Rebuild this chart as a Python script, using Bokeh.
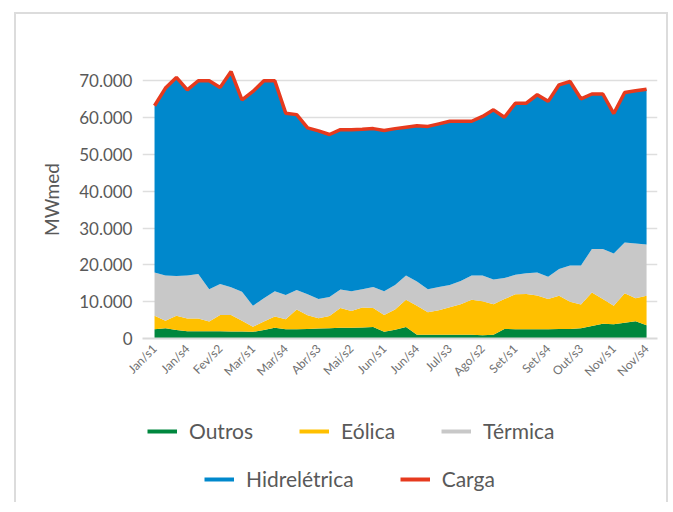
import math
from bokeh.plotting import figure
from bokeh.layouts import column
from bokeh.models import ColumnDataSource, FixedTicker, Legend, LegendItem
from bokeh.embed import file_html
from bokeh.resources import INLINE

weeks = ["Jan/s1", "Jan/s2", "Jan/s3", "Jan/s4", "Jan/s5",
         "Fev/s1", "Fev/s2", "Fev/s3", "Fev/s4",
         "Mar/s1", "Mar/s2", "Mar/s3", "Mar/s4",
         "Abr/s1", "Abr/s2", "Abr/s3", "Abr/s4",
         "Mai/s1", "Mai/s2", "Mai/s3", "Mai/s4",
         "Jun/s1", "Jun/s2", "Jun/s3", "Jun/s4",
         "Jul/s1", "Jul/s2", "Jul/s3", "Jul/s4",
         "Ago/s1", "Ago/s2", "Ago/s3", "Ago/s4",
         "Set/s1", "Set/s2", "Set/s3", "Set/s4",
         "Out/s1", "Out/s2", "Out/s3", "Out/s4", "Out/s5",
         "Nov/s1", "Nov/s2", "Nov/s3", "Nov/s4"]

outros = [2500, 2800, 2300, 2000, 2000, 2000, 2000, 1900, 1900, 1800, 2300, 2900, 2500, 2500, 2600, 2700,
          2800, 2900, 2900, 3000, 3100, 1800, 2400, 3100, 1000, 1000, 1000, 1000, 1000, 1000, 900,
          1000, 2600, 2500, 2500, 2500, 2500, 2600, 2600, 2800, 3400, 4000, 3900, 4300, 4700, 3600]
eolica = [3700, 2000, 3900, 3400, 3400, 2600, 4400, 4500, 2900, 1400, 2300, 3100, 2700, 5400, 3700, 2800,
          3300, 5400, 4600, 5400, 5200, 4600, 5500, 7400, 7900, 6100, 6700, 7500, 8300, 9500, 9200,
          8300, 8100, 9500, 9600, 9200, 8200, 9000, 7400, 6400, 9100, 6700, 5000, 8000, 6200, 8000]
termica = [11700, 12300, 10800, 11700, 12100, 8800, 8400, 7500, 7900, 5700, 6300, 6800, 6600, 5300, 5700, 5200,
           5200, 5000, 5300, 5000, 5700, 6400, 6600, 6600, 6600, 6300, 6300, 6000, 6300, 6600, 7000,
           6700, 5700, 5300, 5600, 6200, 6100, 7300, 9800, 10600, 11800, 13600, 14200, 13800, 14900, 13900]
hidreletrica = [45300, 50900, 53900, 50400, 52500, 56600, 53400, 58600, 52100, 58200, 59100, 57200, 49400, 47600, 45200, 45700,
                44100, 43400, 43900, 43400, 43000, 43700, 42500, 40300, 42300, 44200, 44300, 44500, 43400, 41900, 43200,
                46100, 43700, 46600, 46200, 48300, 47600, 50000, 50000, 45300, 42100, 42100, 38000, 40700, 41500, 42200]
carga = [63200, 68000, 70900, 67500, 70000, 70000, 68200, 72500, 64800, 67100, 70000, 70000, 61200, 60800, 57200, 56400,
         55400, 56700, 56700, 56800, 57000, 56500, 57000, 57400, 57800, 57600, 58300, 59000, 59000, 59000, 60300,
         62100, 60100, 63900, 63900, 66200, 64400, 68900, 69800, 65100, 66400, 66400, 61100, 66800, 67300, 67700]

series_names = ["Outros", "Eólica", "Térmica", "Hidrelétrica", "Carga"]
series_keys = ["outros", "eolica", "termica", "hidreletrica", "carga"]
colors = ["#00873E", "#FFC000", "#C8C8C8", "#0088CC", "#E63A1E"]

y_ticks = [0, 10000, 20000, 30000, 40000, 50000, 60000, 70000]
y_tick_labels = ["0", "10.000", "20.000", "30.000", "40.000", "50.000", "60.000", "70.000"]

x = list(range(len(weeks)))
source = ColumnDataSource(dict(x=x, outros=outros, eolica=eolica, termica=termica,
                               hidreletrica=hidreletrica, carga=carga))

FONT = "Lato"
TXT = "#595959"
BC = "#dcdcdc"
SHIFT = "translate(7px, 4px)"
W = 661

p = figure(width=W, height=384, output_backend="svg", toolbar_location=None,
           x_range=(-1.1, 46.0), y_range=(0, 75500),
           min_border_left=135, min_border_right=11, min_border_top=56, min_border_bottom=50)
p.styles = {"box-shadow": (f"inset 7px 0 0 0 #ffffff, inset 0 8px 0 0 #ffffff, "
                           f"inset 9px 0 0 0 {BC}, inset 0 10px 0 0 {BC}, inset -2px 0 0 0 {BC}"),
            "transform": SHIFT}
p.outline_line_color = None
p.background_fill_color = "white"
p.border_fill_alpha = 0

p.varea_stack(stackers=["outros", "eolica", "termica", "hidreletrica"], x="x",
              color=colors[:4], source=source)
p.line("x", "carga", source=source, line_color=colors[4], line_width=3.5)

# axes
p.xaxis.ticker = FixedTicker(ticks=x[::3])
p.xaxis.major_label_overrides = {i: weeks[i] for i in x[::3]}
p.xaxis.major_label_orientation = math.pi / 4
p.xaxis.major_label_text_font = FONT
p.xaxis.major_label_text_font_size = "12px"
p.xaxis.major_label_text_color = "#707070"
p.xaxis.major_tick_line_color = None
p.xaxis.major_tick_out = 0
p.xaxis.major_tick_in = 0
p.xaxis.minor_tick_line_color = None
p.xaxis.axis_line_color = "#d9d9d9"
p.xaxis.axis_line_width = 2
p.xaxis.major_label_standoff = 8

p.yaxis.ticker = FixedTicker(ticks=y_ticks)
p.yaxis.major_label_overrides = {v: s for v, s in zip(y_ticks, y_tick_labels)}
p.yaxis.major_label_text_font = FONT
p.yaxis.major_label_text_font_size = "17px"
p.yaxis.major_label_text_color = TXT
p.yaxis.major_tick_line_color = None
p.yaxis.major_tick_out = 0
p.yaxis.minor_tick_line_color = None
p.yaxis.axis_line_color = None
p.yaxis.major_label_standoff = 10
p.yaxis.axis_label = "MWmed"
p.yaxis.axis_label_text_font = FONT
p.yaxis.axis_label_text_font_size = "19px"
p.yaxis.axis_label_text_font_style = "normal"
p.yaxis.axis_label_text_color = TXT
p.yaxis.axis_label_standoff = 13

p.xgrid.grid_line_color = None
p.ygrid.grid_line_color = "#dedede"
p.ygrid.grid_line_width = 1.5

# legend figure below the chart (its glyph lines lie outside its visible range)
lf = figure(width=W, height=114, output_backend="svg", toolbar_location=None,
            x_range=(-100, -99), y_range=(-100, -99), x_axis_location=None, y_axis_location=None,
            min_border_left=0, min_border_right=0, min_border_top=0, min_border_bottom=0)
lf.styles = {"box-shadow": f"inset 7px 0 0 0 #ffffff, inset 9px 0 0 0 {BC}, inset -2px 0 0 0 {BC}",
             "transform": SHIFT}
lf.outline_line_color = None
lf.grid.grid_line_color = None
lf.border_fill_alpha = 0
lf.background_fill_alpha = 0

leg_src = ColumnDataSource(source.data)
leg_r = [lf.line("x", k, source=leg_src, line_color=c, line_width=4)
         for k, c in zip(series_keys, colors)]

def make_legend(items, loc):
    return Legend(items=items, location=loc, orientation="horizontal",
                  label_text_font=FONT, label_text_font_size="21px", label_text_color=TXT,
                  glyph_width=30, glyph_height=20, label_height=20, label_standoff=12,
                  spacing=46, padding=0, margin=0,
                  background_fill_alpha=0, border_line_color=None)

leg1 = make_legend([LegendItem(label=series_names[i], renderers=[leg_r[i]]) for i in range(3)], (5, 59))
leg2 = make_legend([LegendItem(label=series_names[i], renderers=[leg_r[i]]) for i in range(3, 5)], (62, 11))
lf.add_layout(leg1, "center")
lf.add_layout(leg2, "center")

layout = column(p, lf)

open("out.html", "w").write(file_html(layout, INLINE))
